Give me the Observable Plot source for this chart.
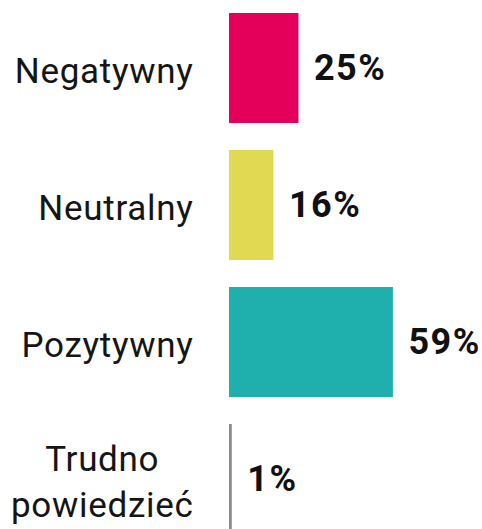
<!DOCTYPE html>
<html>
<head>
<meta charset="utf-8">
<script src="https://cdn.jsdelivr.net/npm/d3@7"></script>
<script src="https://cdn.jsdelivr.net/npm/@observablehq/plot@0.6"></script>
<style>
  html, body { margin: 0; padding: 0; background: #fff; overflow: hidden; }
  #chart { width: 482px; }
  svg { font-family: Roboto, "Noto Sans", sans-serif; }
  .cat-label text { letter-spacing: 0.7px; }
  .val-label text { letter-spacing: 1.5px; }
</style>
</head>
<body>
<div id="chart"></div>
<script>
const categories = ["Negatywny", "Neutralny", "Pozytywny", "Trudno\npowiedzieć"];
const values = [25, 16, 59, 1];
const valueLabels = ["25%", "16%", "59%", "1%"];
const barColors = ["#e4005a", "#e2d952", "#1fb0ad", "#8a8a8a"];

const data = categories.map((c, i) => ({ category: c, value: values[i], label: valueLabels[i] }));

const chart = Plot.plot({
  width: 482,
  height: 547,
  marginLeft: 229,
  marginRight: 3,
  marginTop: 13,
  marginBottom: 13,
  style: { fontFamily: "Roboto, 'Noto Sans', sans-serif", overflow: "hidden" },
  x: { domain: [0, 90], axis: null },
  y: { domain: categories, paddingInner: 0.2, paddingOuter: 0, axis: null },
  color: { domain: categories, range: barColors },
  marks: [
    Plot.barX(data, { x: "value", y: "category", fill: "category" }),
    Plot.text(data, {
      x: 0, y: "category", text: "category",
      textAnchor: "end", dx: -36, dy: 0,
      fontSize: 35, lineHeight: 1.3, fill: "#151515",
      className: "cat-label"
    }),
    Plot.text(data, {
      x: "value", y: "category", text: "label",
      textAnchor: "start", dx: 15, dy: 0,
      fontSize: 36, fontWeight: "bold", fill: "#111",
      className: "val-label"
    })
  ]
});
document.getElementById("chart").appendChild(chart);

// center multi-line category labels within their own block (right edge kept)
d3.select(chart).selectAll("text").each(function () {
  const tspans = d3.select(this).selectAll("tspan");
  if (tspans.size() < 2) return;
  let maxW = 0;
  tspans.each(function () { maxW = Math.max(maxW, this.getComputedTextLength()); });
  d3.select(this).attr("text-anchor", "middle");
  tspans.attr("x", -maxW / 2);
});
</script>
</body>
</html>
